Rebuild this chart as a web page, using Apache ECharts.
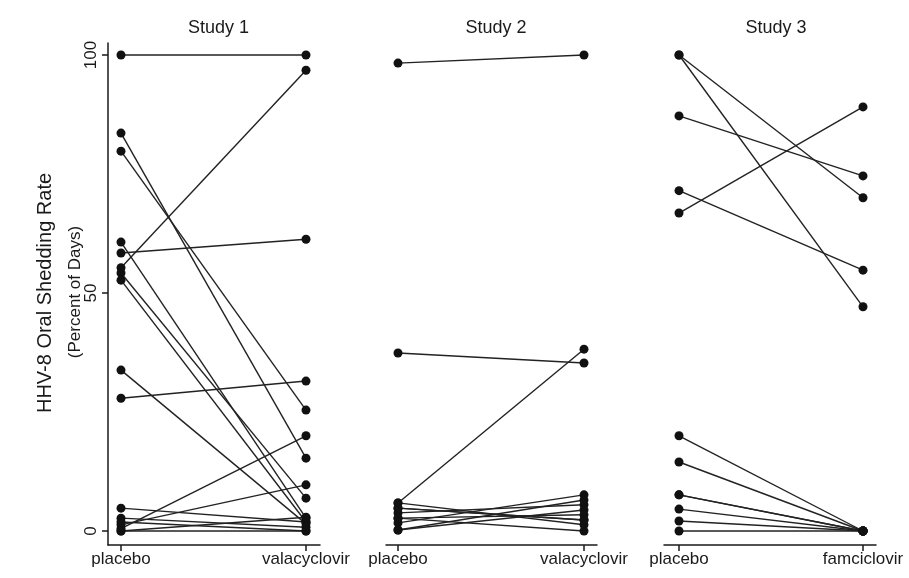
<!DOCTYPE html>
<html>
<head>
<meta charset="utf-8">
<script src="https://cdn.jsdelivr.net/npm/echarts@6/dist/echarts.min.js"></script>
<style>
html,body{margin:0;padding:0;background:#fff;}
#chart{width:909px;height:578px;}
</style>
</head>
<body>
<div id="chart"></div>
<script>
// ---- data ----
const studyTitles = ['Study 1', 'Study 2', 'Study 3'];
const xLabels1 = ['placebo', 'valacyclovir'];
const xLabels2 = ['placebo', 'valacyclovir'];
const xLabels3 = ['placebo', 'famciclovir'];
const yTicks = [0, 50, 100];
const yTitle = 'HHV-8 Oral Shedding Rate';
const ySubTitle = '(Percent of Days)';

const study1Placebo = [100, 83.6, 79.8, 60.7, 58.4, 55.3, 54.2, 52.7, 33.8, 27.9, 4.8, 2.7, 1.9, 1.3, 0.5, 0, 0];
const study1Valacyclovir = [100, 15.3, 25.4, 2.7, 61.3, 96.8, 6.9, 1.9, 1.5, 31.5, 1.9, 0.8, 0, 9.7, 20, 0, 2.9];

const study2Placebo = [98.3, 37.4, 5.9, 5.9, 4.8, 3.8, 2.7, 1.7, 0.2, 0.2, 2.7, 4.8];
const study2Valacyclovir = [100, 35.3, 38.2, 1.3, 2.3, 5.5, 0, 7.6, 6.5, 4.4, 3.4, 2.3];

const study3Placebo = [100, 100, 87.2, 71.5, 66.8, 20, 14.5, 7.6, 7.6, 4.6, 2.1, 0];
const study3Famciclovir = [70, 47.1, 74.6, 54.8, 89.1, 0, 0, 0, 0, 0, 0, 0];

// ---- layout ----
const panels = [
  {left: 108, width: 212, tickPx: 185, offL: 13, labels: xLabels1, pl: study1Placebo, tr: study1Valacyclovir, center: 213.5},
  {left: 386, width: 211, tickPx: 186, offL: 12, labels: xLabels2, pl: study2Placebo, tr: study2Valacyclovir, center: 491},
  {left: 664, width: 212, tickPx: 184, offL: 15, labels: xLabels3, pl: study3Placebo, tr: study3Famciclovir, center: 771}
];
const gridTop = 43, gridH = 502;
const pxPerUnit = 4.76;
const yMin = -(545 - 531) / pxPerUnit;
const yMax = yMin + gridH / pxPerUnit;

const FONT = '"Liberation Sans", Arial, Helvetica, sans-serif';
const INK = '#1a1a1a';

const grid = [], xAxis = [], yAxis = [], series = [], title = [];
panels.forEach((p, i) => {
  grid.push({left: p.left, top: gridTop, width: p.width, height: gridH, containLabel: false});
  const xmin = -p.offL / p.tickPx;
  const xmax = xmin + p.width / p.tickPx;
  xAxis.push({
    type: 'value', gridIndex: i, min: xmin, max: xmax,
    splitLine: {show: false},
    axisLine: {show: true, onZero: false, lineStyle: {color: INK, width: 1.5}},
    axisTick: {show: true, customValues: [0, 1], length: 6, lineStyle: {color: INK, width: 1.5}},
    axisLabel: {show: true, customValues: [0, 1], margin: 6, color: INK, fontSize: 17, fontFamily: FONT,
      formatter: v => (Math.abs(v) < 0.01 ? p.labels[0] : (Math.abs(v - 1) < 0.01 ? p.labels[1] : ''))}
  });
  yAxis.push({
    type: 'value', gridIndex: i, min: yMin, max: yMax, show: i === 0,
    splitLine: {show: false},
    axisLine: {show: i === 0, onZero: false, lineStyle: {color: INK, width: 1.5}},
    axisTick: {show: i === 0, customValues: yTicks, length: 6, lineStyle: {color: INK, width: 1.5}},
    axisLabel: {show: i === 0, customValues: yTicks, rotate: 90, margin: 8, color: INK, fontSize: 17, fontFamily: FONT}
  });
  title.push({
    text: studyTitles[i], left: p.center, top: 14, textAlign: 'center',
    textStyle: {fontSize: 18, fontWeight: 'normal', color: INK, fontFamily: FONT}
  });
  p.pl.forEach((v, k) => {
    series.push({
      type: 'line', xAxisIndex: i, yAxisIndex: i,
      data: [[0, v], [1, p.tr[k]]],
      symbol: 'circle', symbolSize: 9, silent: true, animation: false,
      itemStyle: {color: '#111'},
      lineStyle: {color: '#222', width: 1.4}
    });
  });
});

const chart = echarts.init(document.getElementById('chart'), null, {renderer: 'canvas'});
chart.setOption({
  backgroundColor: '#fff',
  animation: false,
  title, grid, xAxis, yAxis, series,
  graphic: [
    {type: 'text', x: 45, y: 293, rotation: Math.PI / 2,
      style: {text: yTitle, fill: INK, font: '20px ' + FONT, textAlign: 'center', textVerticalAlign: 'middle'}},
    {type: 'text', x: 75, y: 292, rotation: Math.PI / 2,
      style: {text: ySubTitle, fill: INK, font: '17px ' + FONT, textAlign: 'center', textVerticalAlign: 'middle'}}
  ]
});
</script>
</body>
</html>
